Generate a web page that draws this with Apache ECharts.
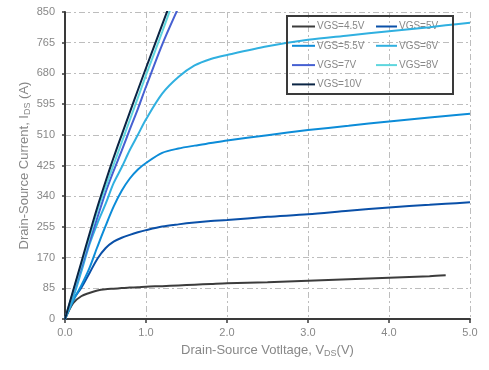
<!DOCTYPE html>
<html>
<head>
<meta charset="utf-8">
<script src="https://cdn.jsdelivr.net/npm/echarts@6/dist/echarts.min.js"></script>
<style>
html,body{margin:0;padding:0;background:#fff;}
#chart{width:489px;height:370px;}
</style>
</head>
<body>
<div id="chart"></div>
<script>
// Drain-source voltage (V)
var vds = [0, 0.1, 0.2, 0.3, 0.4, 0.5, 0.6, 0.7, 0.8, 0.9, 1.0, 1.2, 1.4, 1.6, 1.8, 2.0, 2.5, 3.0, 3.5, 4.0, 4.5, 4.7, 5.0];
// Drain-source current (A) for each gate voltage
var vgs45 = [0, 44, 63, 72, 79, 82.5, 84, 85.5, 87, 88, 89.5, 91, 93, 95, 97, 99, 102, 106, 110, 114, 118.5, 121, null];
var vgs5  = [0, 54, 86, 126, 167, 196, 214, 225, 233, 240, 246, 256, 262, 267, 271, 274, 283, 290, 300, 309, 316, 319, 323];
var vgs55 = [0, 50, 92, 140, 200, 257, 311, 355, 389, 414, 432, 460, 472, 480, 487, 494, 509, 523, 535, 547, 558, 562, 568];
var vgs6  = [0, 58, 130, 205, 265, 318, 376, 420, 468, 510, 553, 624, 670, 702, 720, 731, 755, 773, 785, 797, 808, 813, 820];
var vgs7  = [0, 72, 142, 212, 281, 350, 410, 466, 525, 582, 643, 760, 862, null, null, null, null, null, null, null, null, null, null];
var vgs8  = [0, 75, 150, 225, 300, 365, 427, 489, 551, 613, 675, 795, 920, null, null, null, null, null, null, null, null, null, null];
var vgs10 = [0, 78, 156, 234, 310, 380, 447, 510, 572, 634, 695, 815, 935, null, null, null, null, null, null, null, null, null, null];

var seriesNames = ['VGS=4.5V', 'VGS=5V', 'VGS=5.5V', 'VGS=6V', 'VGS=7V', 'VGS=8V', 'VGS=10V'];
var seriesValues = [vgs45, vgs5, vgs55, vgs6, vgs7, vgs8, vgs10];
var seriesColors = ['#3c3c3c', '#0a50a8', '#0c8cd8', '#30b0e0', '#4660d2', '#5ed6de', '#0a2444'];

var xTicks = [0, 1, 2, 3, 4, 5];
var yTicks = [0, 85, 170, 255, 340, 425, 510, 595, 680, 765, 850];

function pairs(vals) {
  var out = [];
  for (var i = 0; i < vds.length; i++) {
    if (vals[i] !== null) out.push([vds[i], vals[i]]);
  }
  return out;
}

var FONT = '"Liberation Sans", Arial, sans-serif';
var gridLine = { color: '#bdbdbd', width: 1, type: [6, 3, 2, 3] };

var series = seriesNames.map(function (n, k) {
  return {
    name: n,
    type: 'line',
    data: pairs(seriesValues[k]),
    showSymbol: false,
    smooth: 0.3,
    clip: true,
    lineStyle: { color: seriesColors[k], width: 2 },
    itemStyle: { color: seriesColors[k] },
    z: 2 + k
  };
});

var legendText = { color: '#888', fontSize: 10, fontFamily: FONT, padding: [0, 0, 0, -3] };

var chart = echarts.init(document.getElementById('chart'), null, { renderer: 'canvas' });
chart.setOption({
  animation: false,
  backgroundColor: '#fff',
  textStyle: { fontFamily: FONT },
  grid: { left: 65, right: 19, top: 12, bottom: 51, containLabel: false },
  legend: [
    {
      data: ['VGS=4.5V', 'VGS=5.5V', 'VGS=7V', 'VGS=10V'],
      orient: 'vertical', left: 286, top: 21.5, padding: [0, 0, 0, 6],
      itemWidth: 23, itemHeight: 2, itemGap: 9.3,
      icon: 'rect', textStyle: legendText, selectedMode: false
    },
    {
      data: ['VGS=5V', 'VGS=6V', 'VGS=8V'],
      orient: 'vertical', left: 370, top: 21.5, padding: [0, 0, 0, 6],
      itemWidth: 21, itemHeight: 2, itemGap: 9.3,
      icon: 'rect', textStyle: legendText, selectedMode: false
    }
  ],
  graphic: [{
    type: 'rect',
    left: 286, top: 15,
    shape: { width: 166, height: 78 },
    style: { fill: 'transparent', stroke: '#3a3a3a', lineWidth: 2 },
    z: 100
  }],
  xAxis: {
    type: 'value', min: xTicks[0], max: xTicks[xTicks.length - 1], interval: 1,
    name: 'Drain-Source Votltage, V{sub|DS}(V)',
    nameLocation: 'middle', nameGap: 24, nameMoveOverlap: false,
    nameTextStyle: {
      color: '#888', fontSize: 13, fontFamily: FONT,
      rich: { sub: { fontSize: 9, color: '#888', padding: [6, 0, 0, 0], fontFamily: FONT } }
    },
    axisLine: { onZero: false, lineStyle: { color: '#3a3a3a', width: 2 } },
    axisTick: { show: true, length: 4, lineStyle: { color: '#3a3a3a', width: 1.5 } },
    axisLabel: { color: '#888', fontSize: 11, margin: 8, formatter: function (v) { return v.toFixed(1); } },
    splitLine: { show: true, lineStyle: gridLine }
  },
  yAxis: {
    type: 'value', min: yTicks[0], max: yTicks[yTicks.length - 1], interval: 85,
    name: 'Drain-Source Current, I{sub|DS} (A)',
    nameLocation: 'middle', nameGap: 33, nameRotate: 90, nameMoveOverlap: false,
    nameTextStyle: {
      color: '#888', fontSize: 13, fontFamily: FONT,
      rich: { sub: { fontSize: 9, color: '#888', padding: [6, 0, 0, 0], fontFamily: FONT } }
    },
    axisLine: { show: true, onZero: false, lineStyle: { color: '#3a3a3a', width: 2 } },
    axisTick: { show: true, length: 3, lineStyle: { color: '#3a3a3a', width: 1.5 } },
    axisLabel: { color: '#888', fontSize: 11, margin: 10 },
    splitLine: { show: true, lineStyle: gridLine }
  },
  series: series
});
</script>
</body>
</html>
